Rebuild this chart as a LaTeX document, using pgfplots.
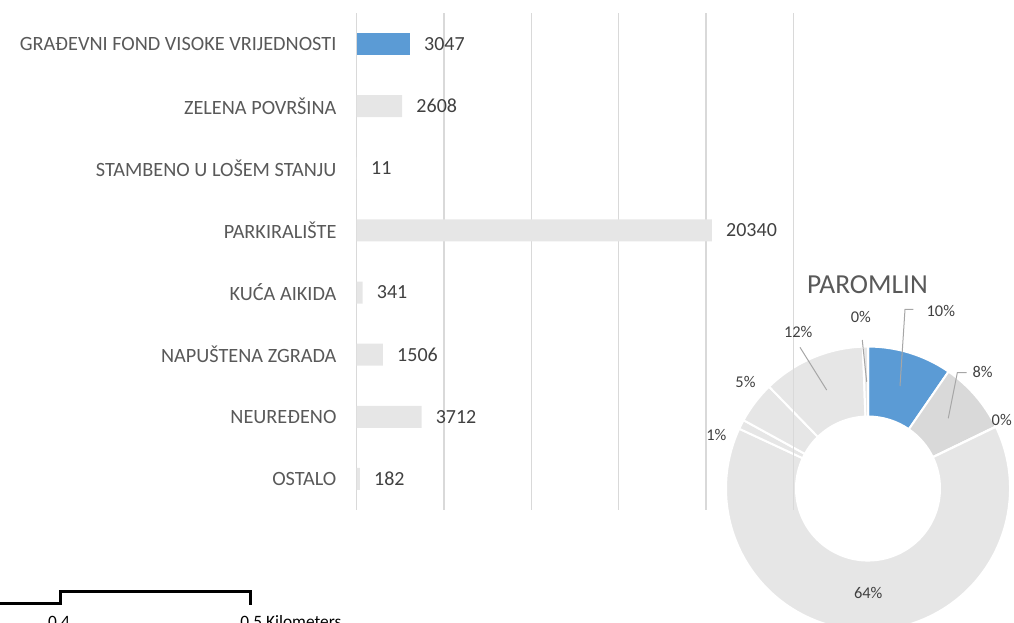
\documentclass[border=0pt]{standalone}
\usepackage{fontspec}
\setmainfont{Carlito}
\usepackage{pgfplots}
\usepackage{pgfplotstable}
\pgfplotsset{compat=1.18}
\definecolor{cblue}{HTML}{5B9BD5}
\definecolor{clgray}{HTML}{E6E6E6}
\definecolor{cmgray}{HTML}{D9D9D9}
\definecolor{cgrid}{HTML}{D9D9D9}
\definecolor{ctxt}{HTML}{595959}
\definecolor{cval}{HTML}{404040}
\definecolor{clead}{HTML}{A6A6A6}
\newcommand\catfont{\fontsize{15.2}{18}\selectfont}
\newcommand\valfont{\fontsize{15}{18}\selectfont}
\newcommand\pctfont{\fontsize{12.3}{14}\selectfont}
\newcommand\titlefont{\fontsize{20.6}{24}\selectfont}

\pgfplotstableread{
id val col
0 3047 cblue
1 2608 cmgray
2 11 clgray
3 20340 clgray
4 341 clgray
5 1506 clgray
6 3712 clgray
7 182 clgray
}\donutdata

\begin{document}
\begin{tikzpicture}
\useasboundingbox (0pt,0pt) rectangle (760.5pt,466.5pt);
% --- donut angles from data
\def\tot{0}
\pgfplotsforeachungrouped \i in {0,...,7}{%
  \pgfplotstablegetelem{\i}{val}\of\donutdata
  \edef\tot{\fpeval{\tot+\pgfplotsretval}}%
}
\def\cum{0}
\pgfplotsforeachungrouped \i in {0,...,7}{%
  \pgfplotstablegetelem{\i}{val}\of\donutdata
  \edef\v{\pgfplotsretval}%
  \edef\aS{\fpeval{90-360*\cum/\tot}}%
  \edef\cum{\fpeval{\cum+\v}}%
  \edef\aE{\fpeval{90-360*\cum/\tot}}%
  \expandafter\xdef\csname aS\i\endcsname{\aS}%
  \expandafter\xdef\csname aE\i\endcsname{\aE}%
  \pgfplotstablegetelem{\i}{col}\of\donutdata
  \expandafter\xdef\csname cS\i\endcsname{\pgfplotsretval}%
}
% --- donut
\begin{axis}[hide axis, scale only axis, width=220pt, height=220pt,
  anchor=center, at={(651pt,100.1pt)},
  xmin=-110, xmax=110, ymin=-110, ymax=110, clip=false]
\coordinate (C) at (axis cs:0,0);
\pgfplotsinvokeforeach{0,...,7}{
  \fill[fill=\csname cS#1\endcsname, draw=white, line width=1.5pt, line join=miter]
    ([shift={(\csname aS#1\endcsname:106.5pt)}]C)
    arc[start angle=\csname aS#1\endcsname, end angle=\csname aE#1\endcsname, radius=106.5pt]
    -- ([shift={(\csname aE#1\endcsname:54pt)}]C)
    arc[start angle=\csname aE#1\endcsname, end angle=\csname aS#1\endcsname, radius=54pt]
    -- cycle;
}
\end{axis}
% --- bar chart
\begin{axis}[
  scale only axis, width=327.5pt, height=372.75pt,
  at={(267.5pt,84pt)}, anchor=south west,
  xbar, bar width=16.5pt, bar shift=0pt,
  xmin=0, xmax=25000, ymin=-0.5, ymax=7.5, y dir=reverse,
  scaled x ticks=false,
  xtick={0,5000,10000,15000,20000,25000}, xticklabels={},
  xmajorgrids, grid style={cgrid, line width=1pt},
  ytick={0,1,2,3,4,5,6,7},
  yticklabels={GRAĐEVNI FOND VISOKE VRIJEDNOSTI, ZELENA POVRŠINA, STAMBENO U LOŠEM STANJU, PARKIRALIŠTE, KUĆA AIKIDA, NAPUŠTENA ZGRADA, NEUREĐENO, OSTALO},
  axis line style={draw=none}, major tick length=0pt,
  yticklabel style={font=\catfont, text=ctxt, anchor=east, inner sep=0pt, xshift=-15pt},
  point meta=x,
  nodes near coords={\pgfmathprintnumber[fixed,precision=0,1000 sep={}]{\pgfplotspointmeta}},
  every node near coord/.append style={font=\valfont, text=cval, anchor=west, inner sep=0pt, xshift=10.5pt},
  /pgf/number format/assume math mode=true,
  clip=false]
\addplot[fill=cblue, draw=none] coordinates {(3047,0)};
\addplot[fill=clgray, draw=none] coordinates {(2608,1) (11,2) (20340,3) (341,4) (1506,5) (3712,6) (182,7)};
\end{axis}
% --- donut title, labels, leader lines
\node[anchor=base, font=\titlefont, text=ctxt, inner sep=0pt] at (650.6pt,246.5pt) {PAROMLIN};
\begin{scope}[font=\pctfont, text=cval]
\node[anchor=base, inner sep=0pt] at (645.6pt,224.25pt) {0\%};
\node[anchor=base, inner sep=0pt] at (705.6pt,229pt) {10\%};
\node[anchor=base, inner sep=0pt] at (598.7pt,213pt) {12\%};
\node[anchor=base, inner sep=0pt] at (736.9pt,183pt) {8\%};
\node[anchor=base, inner sep=0pt] at (751.3pt,147.75pt) {0\%};
\node[anchor=base, inner sep=0pt] at (559.1pt,175.7pt) {5\%};
\node[anchor=base, inner sep=0pt] at (537.3pt,136.5pt) {1\%};
\node[anchor=base, inner sep=0pt] at (651.2pt,17.8pt) {64\%};
\end{scope}
\begin{scope}[clead, line width=0.75pt]
\draw (646.7pt,211.5pt) -- (650pt,180.2pt);
\draw (685pt,234.5pt) -- (678.75pt,234.5pt) -- (675pt,177pt);
\draw (725pt,187pt) -- (718pt,187pt) -- (711.2pt,152.8pt);
\draw (600pt,206pt) -- (620pt,174pt);
\end{scope}
% --- map scale bar (cut off at the bottom, as in the reference)
\draw[black, line width=2.25pt, line join=miter] (-2pt,14.25pt) -- (45pt,14.25pt) -- (45pt,22.7pt) -- (187.5pt,22.7pt) -- (187.5pt,12.5pt);
\node[anchor=base, inner sep=0pt, font=\fontsize{13}{15}\selectfont] at (44.25pt,-4.4pt) {0.4};
\node[anchor=base west, inner sep=0pt, font=\fontsize{13}{15}\selectfont] at (180pt,-4.4pt) {0.5 Kilometers};
\end{tikzpicture}
\end{document}
